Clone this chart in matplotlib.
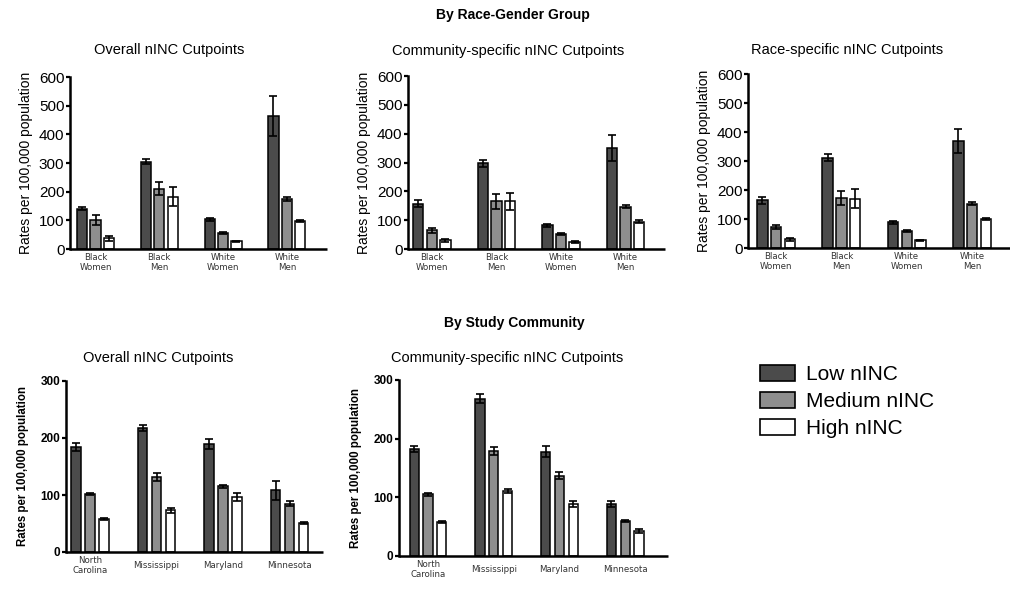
import matplotlib
matplotlib.use("Agg")
import matplotlib.pyplot as plt
from matplotlib.patches import Patch
import numpy as np

plt.rcParams['font.family'] = ['Liberation Sans', 'DejaVu Sans']

levels = ["Low nINC", "Medium nINC", "High nINC"]
level_colors = ["#4b4b4b", "#8e8e8e", "#ffffff"]

groups = ["Black\nWomen", "Black\nMen", "White\nWomen", "White\nMen"]
communities = ["North\nCarolina", "Mississippi", "Maryland", "Minnesota"]

# race-gender panels: rows = group, cols = low/medium/high
overall_rg = [[140, 102, 37], [305, 210, 183], [103, 55, 27], [465, 175, 97]]
overall_rg_err = [[5, 18, 10], [10, 22, 33], [6, 3, 2], [70, 8, 4]]
community_rg = [[157, 65, 30], [297, 165, 165], [83, 52, 24], [350, 147, 95]]
community_rg_err = [[12, 8, 5], [12, 25, 30], [5, 3, 3], [45, 4, 4]]
race_rg = [[165, 73, 30], [312, 173, 170], [88, 58, 27], [370, 153, 100]]
race_rg_err = [[12, 8, 5], [12, 25, 33], [5, 3, 2], [42, 4, 3]]

# study community panels
overall_sc = [[185, 102, 58], [218, 132, 73], [190, 115, 97], [108, 85, 51]]
overall_sc_err = [[7, 2, 2], [5, 7, 5], [9, 3, 7], [17, 5, 2]]
community_sc = [[183, 105, 58], [268, 179, 111], [178, 137, 89], [88, 60, 43]]
community_sc_err = [[5, 2, 2], [8, 6, 4], [9, 6, 5], [5, 2, 3]]

W, H = 1010, 601
fig = plt.figure(figsize=(W / 100, H / 100), dpi=100)


def px_axes(left, top, right, bottom):
    return fig.add_axes([left / W, 1 - bottom / H, (right - left) / W, (bottom - top) / H])


def draw_panel(ax, values, errors, labels, ymax, step, xlim, width, pitch, bottom_style):
    vals = np.array(values, dtype=float)
    errs = np.array(errors, dtype=float)
    x = np.arange(len(labels))
    for i in range(3):
        ax.bar(x + (i - 1) * pitch, vals[:, i], width, color=level_colors[i],
               edgecolor="black", linewidth=1.1, zorder=2)
        ax.errorbar(x + (i - 1) * pitch, vals[:, i], yerr=errs[:, i], fmt="none",
                    ecolor="black", elinewidth=1.2, capsize=3, capthick=1.2, zorder=3)
    ax.set_xlim(*xlim)
    ax.set_ylim(0, ymax)
    ax.set_yticks(np.arange(0, ymax + 1, step))
    ax.set_xticks(x)
    ax.set_xticklabels(labels, fontsize=6.2, family="DejaVu Sans", color="#333333",
                       linespacing=1.15)
    for t in ax.get_xticklabels():
        t.set_va("center")
    ax.tick_params(axis="x", length=0, pad=9.5)
    for s in ["top", "right"]:
        ax.spines[s].set_visible(False)
    for s in ["left", "bottom"]:
        ax.spines[s].set_linewidth(1.8)
    ax.spines["bottom"].set_capstyle("butt")
    if bottom_style:
        ax.tick_params(axis="y", length=3, width=1.6, labelsize=8.5, pad=1)
        for t in ax.get_yticklabels():
            t.set_fontweight("bold")
        ax.set_ylabel("Rates per 100,000 population", fontsize=8.3, fontweight="bold", labelpad=8)
    else:
        ax.tick_params(axis="y", length=3, width=1.6, labelsize=11, pad=1)
        ax.set_ylabel("Rates per 100,000 population", fontsize=10, labelpad=4)


ax1 = px_axes(70, 77, 327, 249)
draw_panel(ax1, overall_rg, overall_rg_err, groups, 600, 100, (-0.40, 3.63), 0.16, 0.21, False)
ax2 = px_axes(408, 76, 665, 249)
draw_panel(ax2, community_rg, community_rg_err, groups, 600, 100, (-0.37, 3.61), 0.16, 0.21, False)
ax3 = px_axes(748, 74, 1010, 248)
draw_panel(ax3, race_rg, race_rg_err, groups, 600, 100, (-0.43, 3.58), 0.16, 0.21, False)

ax4 = px_axes(66, 381, 323, 552)
draw_panel(ax4, overall_sc, overall_sc_err, communities, 300, 100, (-0.36, 3.5), 0.14, 0.21, True)
ax5 = px_axes(399, 380, 668, 556)
draw_panel(ax5, community_sc, community_sc_err, communities, 300, 100, (-0.44, 3.65), 0.14, 0.21, True)

fig.text(513 / W, 1 - 15 / H, "By Race-Gender Group", ha="center", va="center",
         fontsize=10, fontweight="bold")
fig.text(514 / W, 1 - 323 / H, "By Study Community", ha="center", va="center",
         fontsize=10, fontweight="bold")
fig.text(169 / W, 1 - 50 / H, "Overall nINC Cutpoints", ha="center", va="center", fontsize=10.5)
fig.text(508 / W, 1 - 51 / H, "Community-specific nINC Cutpoints", ha="center", va="center", fontsize=10.5)
fig.text(847 / W, 1 - 50 / H, "Race-specific nINC Cutpoints", ha="center", va="center", fontsize=10.5)
fig.text(158 / W, 1 - 358 / H, "Overall nINC Cutpoints", ha="center", va="center", fontsize=10.5)
fig.text(507 / W, 1 - 358 / H, "Community-specific nINC Cutpoints", ha="center", va="center", fontsize=10.5)

handles = [Patch(facecolor=c, edgecolor="black", linewidth=1.2) for c in level_colors]
fig.legend(handles, levels, loc="upper left", bbox_to_anchor=(760 / W, 1 - 365 / H),
           frameon=False, fontsize=15, handlelength=1.7, handleheight=0.8,
           labelspacing=0.38, handletextpad=0.5, borderaxespad=0, borderpad=0)

fig.savefig("out.png", dpi=100)
